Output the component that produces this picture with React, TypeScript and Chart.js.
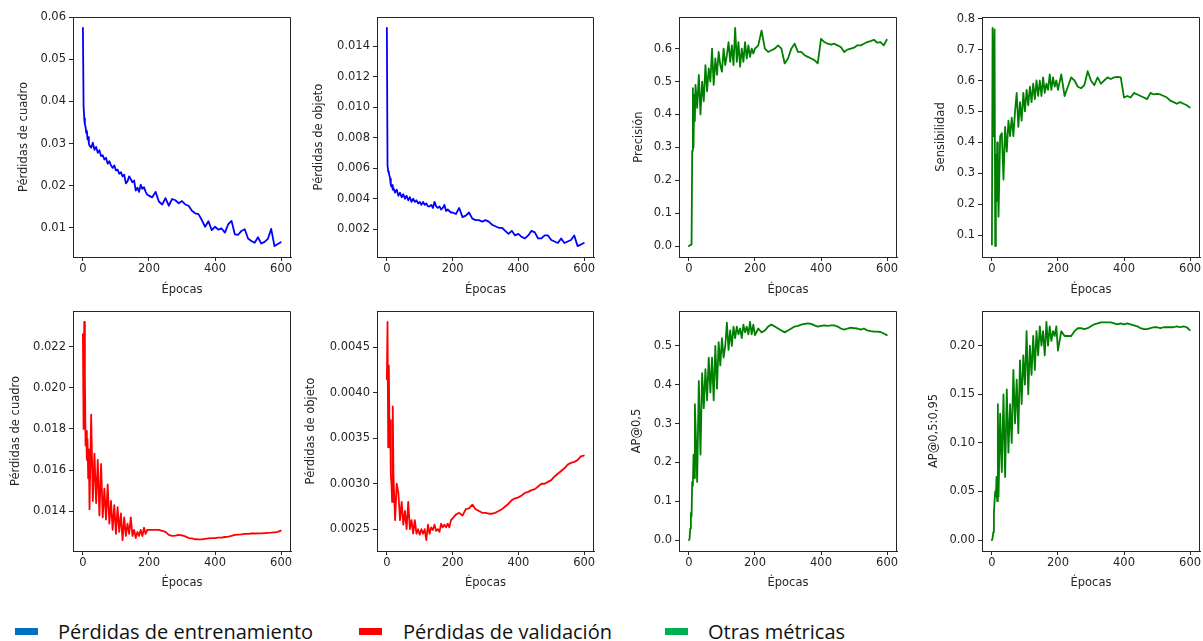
import React, { useEffect, useRef } from 'react';
import { Chart, registerables } from 'chart.js';

Chart.register(...registerables);

// ---------------- DATA ----------------
const epochs = [
  0, 2, 4, 6, 8, 10, 12, 14, 16, 18, 20,
  25, 30, 35, 40, 45, 50, 55, 60, 65, 70, 75, 80,
  85, 90, 95, 100, 105, 110, 115, 120, 125, 130, 135, 140,
  145, 150, 155, 160, 165, 170, 175, 180, 185, 190, 195, 200,
  210, 220, 230, 240, 250, 260, 270, 280, 290, 300,
  310, 320, 330, 340, 350, 360, 370, 380, 390, 400,
  410, 420, 430, 440, 450, 460, 470, 480, 490, 500,
  510, 520, 530, 540, 550, 560, 570, 580, 590, 599,
];

const trainBoxLoss = [
  0.0575, 0.039, 0.036, 0.0345, 0.034, 0.0325, 0.033, 0.031, 0.0315, 0.030, 0.0295,
  0.029, 0.0302, 0.0285, 0.0292, 0.0278, 0.0284, 0.027, 0.0272, 0.0262, 0.0266, 0.0252, 0.0258,
  0.0248, 0.0242, 0.0248, 0.0236, 0.0238, 0.0228, 0.0232, 0.0222, 0.0226, 0.0205, 0.021, 0.0222,
  0.0215, 0.0208, 0.0212, 0.0188, 0.0195, 0.0185, 0.0202, 0.0192, 0.0196, 0.0185, 0.0178, 0.0176,
  0.0172, 0.0185, 0.0162, 0.0155, 0.017, 0.0152, 0.0168, 0.0165, 0.0158, 0.0163,
  0.0155, 0.0152, 0.014, 0.0134, 0.0132, 0.0118, 0.0102, 0.0115, 0.0094, 0.0102,
  0.0095, 0.0098, 0.0088, 0.0108, 0.0116, 0.0084, 0.0083, 0.0092, 0.0096, 0.0074,
  0.0068, 0.0064, 0.0077, 0.0062, 0.0066, 0.0073, 0.0097, 0.0056, 0.0061, 0.0065,
];

const trainObjLoss = [
  0.0152, 0.0062, 0.0058, 0.0057, 0.0055, 0.0053, 0.0049, 0.0048, 0.0049, 0.0046, 0.0047,
  0.0044, 0.0046, 0.0042, 0.0044, 0.0041, 0.0043, 0.0040, 0.0042, 0.0039, 0.0041, 0.0038, 0.0040,
  0.0038, 0.0039, 0.0037, 0.0038, 0.0036, 0.0038, 0.0036, 0.0037, 0.0035, 0.0035, 0.0036, 0.0034,
  0.0038, 0.0035, 0.0034, 0.0035, 0.0033, 0.0034, 0.0036, 0.0032, 0.0033, 0.0032, 0.0031, 0.0031,
  0.0030, 0.0034, 0.0028, 0.0029, 0.0031, 0.0027, 0.0026, 0.0026, 0.0025, 0.0026,
  0.0025, 0.0023, 0.0022, 0.0021, 0.0021, 0.0019, 0.0017, 0.0019, 0.0016, 0.0017,
  0.0015, 0.0014, 0.0016, 0.0019, 0.0018, 0.0014, 0.0014, 0.0016, 0.0016, 0.0013,
  0.0012, 0.0011, 0.0014, 0.0011, 0.0012, 0.0013, 0.0016, 0.0009, 0.0010, 0.0011,
];

const precision = [
  0.0, 0.002, 0.003, 0.004, 0.005, 0.29, 0.48, 0.30, 0.46, 0.38, 0.49,
  0.42, 0.52, 0.40, 0.50, 0.44, 0.55, 0.47, 0.54, 0.50, 0.60, 0.49, 0.57,
  0.52, 0.59, 0.55, 0.53, 0.60, 0.55, 0.58, 0.62, 0.56, 0.61, 0.55, 0.663,
  0.56, 0.62, 0.545, 0.60, 0.56, 0.62, 0.57, 0.61, 0.575, 0.60, 0.585, 0.60,
  0.61, 0.655, 0.60, 0.59, 0.595, 0.60, 0.61, 0.60, 0.555, 0.57,
  0.60, 0.615, 0.59, 0.59, 0.58, 0.575, 0.57, 0.565, 0.555, 0.63,
  0.62, 0.615, 0.612, 0.615, 0.61, 0.605, 0.59, 0.597, 0.60, 0.603,
  0.61, 0.61, 0.615, 0.62, 0.623, 0.627, 0.618, 0.62, 0.61, 0.627,
];

const recall = [
  0.07, 0.77, 0.42, 0.48, 0.765, 0.065, 0.36, 0.21, 0.40, 0.30, 0.16,
  0.42, 0.43, 0.28, 0.45, 0.37, 0.47, 0.42, 0.48, 0.42, 0.50, 0.56, 0.45,
  0.53, 0.47, 0.56, 0.50, 0.57, 0.52, 0.58, 0.53, 0.59, 0.54, 0.60, 0.55,
  0.60, 0.55, 0.61, 0.56, 0.59, 0.57, 0.62, 0.57, 0.61, 0.58, 0.60, 0.57,
  0.62, 0.55, 0.58, 0.61, 0.60, 0.58, 0.575, 0.585, 0.63, 0.60,
  0.585, 0.61, 0.59, 0.60, 0.61, 0.605, 0.61, 0.612, 0.61, 0.545,
  0.55, 0.545, 0.56, 0.555, 0.55, 0.545, 0.54, 0.56, 0.555, 0.557,
  0.555, 0.55, 0.545, 0.535, 0.53, 0.525, 0.53, 0.525, 0.52, 0.513,
];

const valBoxLoss = [
  0.0226, 0.018, 0.0232, 0.0205, 0.0172, 0.0179, 0.0165, 0.0175, 0.0156, 0.017, 0.0141,
  0.0187, 0.0145, 0.0168, 0.0144, 0.0165, 0.0138, 0.0163, 0.0137, 0.0151, 0.0136, 0.0153, 0.0134,
  0.0145, 0.0131, 0.0143, 0.0129, 0.0142, 0.013, 0.0139, 0.0126, 0.0137, 0.0128, 0.0134, 0.0129,
  0.0137, 0.0128, 0.0131, 0.0127, 0.013, 0.0128, 0.0131, 0.0128, 0.0132, 0.0129, 0.0131, 0.0131,
  0.0131, 0.0131, 0.0131, 0.01305, 0.0130, 0.01285, 0.0128, 0.01282, 0.01285, 0.01283,
  0.01278, 0.0127, 0.01268, 0.01264, 0.01263, 0.01263, 0.01266, 0.01268, 0.0127, 0.0127,
  0.01272, 0.01272, 0.01275, 0.01277, 0.0128, 0.01285, 0.01287, 0.01288, 0.0129, 0.0129,
  0.01292, 0.01292, 0.01293, 0.01293, 0.01294, 0.01295, 0.01296, 0.01298, 0.013, 0.01306,
];

const valObjLoss = [
  0.00415, 0.00478, 0.0034, 0.0043, 0.0035, 0.0037, 0.0031, 0.0030, 0.0028, 0.00385, 0.0031,
  0.0026, 0.0030, 0.0029, 0.0026, 0.0028, 0.00255, 0.0027, 0.0025, 0.0028, 0.0025, 0.0026, 0.00245,
  0.0026, 0.00245, 0.0025, 0.00244, 0.0025, 0.00245, 0.0025, 0.00238, 0.00255, 0.00245, 0.00252, 0.00249,
  0.00255, 0.00248, 0.0025, 0.00247, 0.00256, 0.00252, 0.00255, 0.00252, 0.00256, 0.00252, 0.0026, 0.00262,
  0.00266, 0.00268, 0.00265, 0.00272, 0.00273, 0.00277, 0.00272, 0.0027, 0.00268, 0.00268,
  0.00267, 0.00267, 0.00268, 0.0027, 0.00272, 0.00275, 0.00278, 0.00282, 0.00284, 0.00285,
  0.00287, 0.0029, 0.00291, 0.00293, 0.00294, 0.00297, 0.003, 0.003, 0.00302, 0.00304,
  0.00308, 0.00311, 0.00314, 0.00317, 0.00321, 0.00323, 0.00324, 0.00326, 0.0033, 0.00331,
];

const ap50 = [
  0.0, 0.003, 0.03, 0.07, 0.06, 0.15, 0.14, 0.22, 0.16, 0.35, 0.30,
  0.15, 0.41, 0.22, 0.43, 0.34, 0.44, 0.36, 0.47, 0.38, 0.47, 0.36, 0.50,
  0.39, 0.51, 0.45, 0.52, 0.47, 0.50, 0.56, 0.49, 0.54, 0.50, 0.55, 0.52,
  0.55, 0.53, 0.545, 0.52, 0.555, 0.535, 0.55, 0.53, 0.562, 0.53, 0.555, 0.528,
  0.545, 0.535, 0.54, 0.55, 0.555, 0.55, 0.545, 0.54, 0.535, 0.54,
  0.545, 0.55, 0.552, 0.555, 0.557, 0.558, 0.557, 0.553, 0.55, 0.552,
  0.553, 0.552, 0.553, 0.553, 0.55, 0.545, 0.542, 0.545, 0.547, 0.546,
  0.545, 0.542, 0.545, 0.54, 0.538, 0.537, 0.537, 0.536, 0.532, 0.528,
];

const ap5095 = [
  0.0, 0.002, 0.008, 0.028, 0.04, 0.05, 0.045, 0.065, 0.04, 0.14, 0.045,
  0.13, 0.07, 0.15, 0.065, 0.155, 0.09, 0.14, 0.10, 0.175, 0.12, 0.165, 0.11,
  0.185, 0.14, 0.19, 0.16, 0.215, 0.15, 0.20, 0.17, 0.21, 0.175, 0.215, 0.19,
  0.22, 0.20, 0.215, 0.19, 0.2245, 0.20, 0.22, 0.205, 0.215, 0.21, 0.22, 0.195,
  0.215, 0.21, 0.21, 0.21, 0.215, 0.218, 0.218, 0.217, 0.218, 0.22,
  0.222, 0.223, 0.224, 0.224, 0.224, 0.224, 0.223, 0.222, 0.223, 0.222,
  0.223, 0.222, 0.221, 0.22, 0.218, 0.217, 0.217, 0.218, 0.219, 0.219,
  0.218, 0.219, 0.219, 0.219, 0.219, 0.22, 0.219, 0.22, 0.219, 0.216,
];

const xTickLabels = ['0', '200', '400', '600'];
const yTicksTrainBox = ['0.01', '0.02', '0.03', '0.04', '0.05', '0.06'];
const yTicksTrainObj = ['0.002', '0.004', '0.006', '0.008', '0.010', '0.012', '0.014'];
const yTicksPrecision = ['0.0', '0.1', '0.2', '0.3', '0.4', '0.5', '0.6'];
const yTicksRecall = ['0.1', '0.2', '0.3', '0.4', '0.5', '0.6', '0.7', '0.8'];
const yTicksValBox = ['0.014', '0.016', '0.018', '0.020', '0.022'];
const yTicksValObj = ['0.0025', '0.0030', '0.0035', '0.0040', '0.0045'];
const yTicksAp50 = ['0.0', '0.1', '0.2', '0.3', '0.4', '0.5'];
const yTicksAp5095 = ['0.00', '0.05', '0.10', '0.15', '0.20'];

const xTitle = 'Épocas';
const legendLabels = ['Pérdidas de entrenamiento', 'Pérdidas de validación', 'Otras métricas'];

// ---------------- STYLE / LAYOUT ----------------
const BLUE = '#0000ff';
const RED = '#ff0000';
const GREEN = '#008000';
const legendColors = ['#0070C0', '#FF0000', '#00B050'];
const TEXT = '#262626';
const AX = '#262626';
const FONT_SIZE = 11.5;

type PanelDef = {
  series: number[];
  color: string;
  yTitle: string;
  yTicks: string[];
  box: [number, number, number, number]; // l, t, r, b
  yTitleX: number;
  xTitleY: number;
};

const PANELS: PanelDef[] = [
  { series: trainBoxLoss, color: BLUE, yTitle: 'Pérdidas de cuadro', yTicks: yTicksTrainBox, box: [73, 17, 291, 257], yTitleX: 24, xTitleY: 290 },
  { series: trainObjLoss, color: BLUE, yTitle: 'Pérdidas de objeto', yTicks: yTicksTrainObj, box: [377, 17, 594, 257], yTitleX: 319, xTitleY: 290 },
  { series: precision, color: GREEN, yTitle: 'Precisión', yTicks: yTicksPrecision, box: [679, 17, 897, 257], yTitleX: 639, xTitleY: 290 },
  { series: recall, color: GREEN, yTitle: 'Sensibilidad', yTicks: yTicksRecall, box: [982, 17, 1200, 257], yTitleX: 941, xTitleY: 290 },
  { series: valBoxLoss, color: RED, yTitle: 'Pérdidas de cuadro', yTicks: yTicksValBox, box: [73, 311, 291, 551], yTitleX: 16, xTitleY: 583 },
  { series: valObjLoss, color: RED, yTitle: 'Pérdidas de objeto', yTicks: yTicksValObj, box: [377, 311, 594, 551], yTitleX: 311, xTitleY: 583 },
  { series: ap50, color: GREEN, yTitle: 'AP@0,5', yTicks: yTicksAp50, box: [679, 311, 897, 551], yTitleX: 637, xTitleY: 583 },
  { series: ap5095, color: GREEN, yTitle: 'AP@0,5:0,95', yTicks: yTicksAp5095, box: [982, 311, 1200, 551], yTitleX: 934, xTitleY: 583 },
];

const legendLayout = [
  { sq: 15, tx: 58 },
  { sq: 359, tx: 403 },
  { sq: 665, tx: 708 },
];

const framePlugin = {
  id: 'frame',
  afterDraw(chart: any) {
    const { ctx, chartArea } = chart;
    const { left, top, right, bottom } = chartArea;
    ctx.save();
    ctx.strokeStyle = AX;
    ctx.lineWidth = 1;
    const t = Math.round(top) + 0.5;
    const r = Math.round(right) - 0.5;
    ctx.beginPath();
    ctx.moveTo(left, t);
    ctx.lineTo(r, t);
    ctx.lineTo(r, bottom);
    ctx.stroke();
    ctx.restore();
  },
};

function PanelChart({ p }: { p: PanelDef }) {
  const ref = useRef<HTMLCanvasElement | null>(null);
  const [bl, bt, br, bb] = p.box;
  const cl = p.yTitleX - 10;
  const ct = bt - 10;
  const cr = Math.min(br + 12, 1203);
  const cb = p.xTitleY + 10;
  const w = cr - cl;
  const h = cb - ct;

  useEffect(() => {
    if (!ref.current) return;
    const vals = p.series;
    const lo = Math.min(...vals);
    const hi = Math.max(...vals);
    const m = (hi - lo) * 0.05;
    const yVals = p.yTicks.map(Number);
    const xVals = xTickLabels.map(Number);
    const lh = FONT_SIZE * 1.2;
    const chart = new Chart(ref.current, {
      type: 'line',
      data: {
        datasets: [
          {
            data: epochs.map((e, i) => ({ x: e, y: vals[i] })),
            borderColor: p.color,
            backgroundColor: p.color,
            borderWidth: 1.8,
            borderJoinStyle: 'round',
            borderCapStyle: 'round',
            pointRadius: 0,
            fill: false,
            tension: 0,
          },
        ],
      },
      options: {
        animation: false,
        responsive: false,
        devicePixelRatio: 1,
        layout: { padding: { left: 0, top: bt - ct, right: cr - br, bottom: 0 } },
        plugins: { legend: { display: false }, tooltip: { enabled: false } },
        scales: {
          x: {
            type: 'linear',
            min: -30,
            max: 630,
            bounds: 'data',
            afterBuildTicks: (s: any) => {
              s.ticks = xVals.map((v) => ({ value: v }));
            },
            afterFit: (s: any) => {
              s.height = cb - bb;
            },
            ticks: {
              callback: (_v: any, i: number) => xTickLabels[i],
              color: TEXT,
              font: { size: FONT_SIZE, family: 'DejaVu Sans' },
              padding: 1,
              maxRotation: 0,
              autoSkip: false,
            },
            grid: { display: true, drawOnChartArea: false, drawTicks: true, tickLength: 4, color: AX, lineWidth: 1 },
            border: { display: true, color: AX, width: 1 },
            title: {
              display: true,
              text: xTitle,
              color: TEXT,
              font: { size: FONT_SIZE, family: 'DejaVu Sans' },
              padding: { top: 0, bottom: 10 - lh / 2 },
            },
          },
          y: {
            type: 'linear',
            min: lo - m,
            max: hi + m,
            bounds: 'data',
            afterBuildTicks: (s: any) => {
              s.ticks = yVals.map((v) => ({ value: v }));
            },
            afterFit: (s: any) => {
              s.width = bl - cl;
            },
            ticks: {
              callback: (_v: any, i: number) => p.yTicks[i],
              color: TEXT,
              font: { size: FONT_SIZE, family: 'DejaVu Sans' },
              padding: 3,
              autoSkip: false,
            },
            grid: { display: true, drawOnChartArea: false, drawTicks: true, tickLength: 4, color: AX, lineWidth: 1 },
            border: { display: true, color: AX, width: 1 },
            title: {
              display: true,
              text: p.yTitle,
              color: TEXT,
              font: { size: FONT_SIZE, family: 'DejaVu Sans' },
              padding: { top: 10 - lh / 2, bottom: 0 },
            },
          },
        },
      } as any,
      plugins: [framePlugin],
    });
    return () => chart.destroy();
  }, []);

  return (
    <canvas
      ref={ref}
      width={w}
      height={h}
      style={{ position: 'absolute', left: cl, top: ct, width: w, height: h }}
    />
  );
}

export default function App() {
  return (
    <div
      style={{
        position: 'fixed',
        left: 0,
        top: 0,
        width: 1203,
        height: 641,
        overflow: 'hidden',
        background: '#ffffff',
      }}
    >
      {PANELS.map((p, i) => (
        <PanelChart key={i} p={p} />
      ))}
      {legendLabels.map((lab, i) => (
        <React.Fragment key={lab}>
          <div
            style={{
              position: 'absolute',
              left: legendLayout[i].sq,
              top: 628,
              width: 23,
              height: 7,
              background: legendColors[i],
            }}
          />
          <span
            style={{
              position: 'absolute',
              left: legendLayout[i].tx,
              top: 622,
              fontFamily: '"Open Sans", sans-serif',
              fontSize: 20,
              lineHeight: '20px',
              color: '#111',
              whiteSpace: 'nowrap',
            }}
          >
            {lab}
          </span>
        </React.Fragment>
      ))}
    </div>
  );
}
